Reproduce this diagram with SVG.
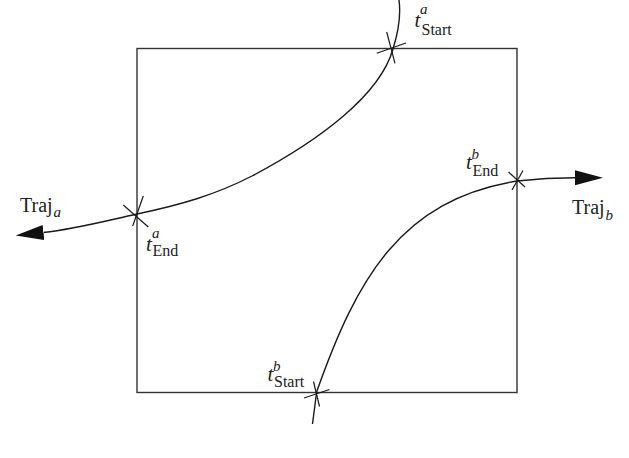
<svg xmlns="http://www.w3.org/2000/svg" width="629" height="458" viewBox="0 0 629 458">
<defs>
<marker id="arrow" markerUnits="userSpaceOnUse" viewBox="0 -8 29 16" refX="0" refY="0" markerWidth="29" markerHeight="16" orient="auto">
<path d="M0,-7.5 L28,0 L0,7.5 z" fill="#111"/>
</marker>
<style>
.box{fill:none;stroke:#333;stroke-width:1.4}
.traj{fill:none;stroke:#1a1a1a;stroke-width:1.4}
.tick{stroke:#1a1a1a;stroke-width:1.2}
.t{font-family:"Liberation Serif",serif;font-style:italic;font-size:21px;fill:#222}
.sup{font-family:"Liberation Serif",serif;font-style:italic;font-size:15px;fill:#222}
.sub{font-family:"Liberation Serif",serif;font-size:16px;fill:#222}
.lbl{font-family:"Liberation Serif",serif;font-size:20px;fill:#222}
.lsub{font-family:"Liberation Serif",serif;font-style:italic;font-size:15px;fill:#222}
</style>
</defs>
<rect id="region" class="box" x="137" y="48.5" width="380" height="344"/>
<g id="connectors">
<path id="traj-a" class="traj" d="M399,0 C401,15 399,30 393,49 C380,95 320,140 252,176 C215,195 180,205 137,214 C105,221 75,229 43.5,232.5" marker-end="url(#arrow)"/>
<path id="traj-b" class="traj" d="M312.5,424 L316.7,391.7 C356.7,279 400,200 517,181 C540,178.5 558,177.8 575,177.8" marker-end="url(#arrow)"/>
</g>
<g id="cross-a-start">
<line class="tick" x1="376.7" y1="53.3" x2="406" y2="43"/>
<line class="tick" x1="386.7" y1="32" x2="395" y2="63.3"/>
</g>
<g id="cross-a-end">
<line class="tick" x1="123.3" y1="205" x2="148.3" y2="227"/>
<line class="tick" x1="143.3" y1="196" x2="132.7" y2="226"/>
</g>
<g id="cross-b-end">
<line class="tick" x1="508.5" y1="172" x2="525" y2="187"/>
<line class="tick" x1="523" y1="170.5" x2="512" y2="190"/>
</g>
<g id="cross-b-start">
<line class="tick" x1="304" y1="398" x2="329.5" y2="389.5"/>
<line class="tick" x1="313.5" y1="381.5" x2="319.5" y2="406.5"/>
</g>
<g id="label-a-start">
<text class="t" x="414.5" y="27">t</text>
<text class="sup" x="420" y="14">a</text>
<text class="sub" x="421.5" y="35">Start</text>
</g>
<g id="label-a-end">
<text class="t" x="146" y="250.5">t</text>
<text class="sup" x="152" y="238">a</text>
<text class="sub" x="152.5" y="255.5">End</text>
</g>
<g id="label-b-end">
<text class="t" x="466" y="168.5">t</text>
<text class="sup" x="471.5" y="158.5">b</text>
<text class="sub" x="472.5" y="176">End</text>
</g>
<g id="label-b-start">
<text class="t" x="267.5" y="380.5">t</text>
<text class="sup" x="273" y="371">b</text>
<text class="sub" x="274" y="387">Start</text>
</g>
<g id="label-traj-a">
<text class="lbl" x="20" y="211.5">Traj</text>
<text class="lsub" x="53.5" y="217">a</text>
</g>
<g id="label-traj-b">
<text class="lbl" x="572" y="214">Traj</text>
<text class="lsub" x="605.5" y="219.5">b</text>
</g>
</svg>
